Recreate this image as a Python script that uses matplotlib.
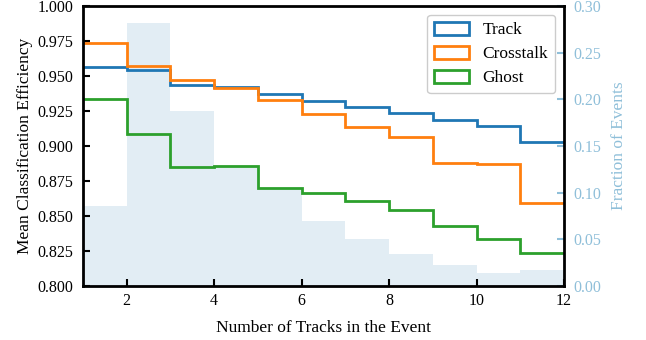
import matplotlib.pyplot as plt
from matplotlib.patches import Patch
import numpy as np

plt.rcParams['font.family'] = ['Liberation Serif', 'DejaVu Serif']
plt.rcParams['font.size'] = 12.5

# bin edges: number of tracks in the event
edges = np.arange(1, 13)

track = [0.9562, 0.9545, 0.9433, 0.9419, 0.9374, 0.9321, 0.9276, 0.9238, 0.9186, 0.9145, 0.9031]
crosstalk = [0.9733, 0.9574, 0.9471, 0.9412, 0.9329, 0.9229, 0.9138, 0.9067, 0.8876, 0.8871, 0.8595]
ghost = [0.9333, 0.9083, 0.8848, 0.8857, 0.8698, 0.8667, 0.8609, 0.8543, 0.8429, 0.8336, 0.8234]

# fraction of events per bin
frac = [0.0857, 0.282, 0.1876, 0.128, 0.105, 0.0697, 0.0504, 0.0343, 0.0225, 0.0143, 0.0171]

names = ['Track', 'Crosstalk', 'Ghost']
colors = ['#1f77b4', '#ff7f0e', '#2ca02c']
side_col = '#8fbfd9'

fig = plt.figure(figsize=(6.46, 3.4), dpi=100)
ax = fig.add_axes([0.1285, 0.159, 0.7445, 0.823])
ax2 = ax.twinx()

# histogram on the secondary axis, drawn behind
ax.set_zorder(2)
ax.patch.set_visible(False)
ax2.set_zorder(1)
ax2.stairs(frac, edges, fill=True, color='#e2edf4', linewidth=0)

for vals, c in zip([track, crosstalk, ghost], colors):
    ax.stairs(vals, edges, baseline=None, color=c, lw=2)

ax.set_xlim(1, 12)
ax.set_ylim(0.8, 1.0)
ax2.set_ylim(0, 0.3)
ax.set_xticks([2, 4, 6, 8, 10, 12])
ax.set_yticks(np.arange(0.8, 1.0001, 0.025))
ax.yaxis.set_major_formatter(plt.FormatStrFormatter('%.3f'))
ax2.set_yticks(np.arange(0, 0.3001, 0.05))
ax2.yaxis.set_major_formatter(plt.FormatStrFormatter('%.2f'))

ax.tick_params(direction='in', length=5, width=1.5, top=False, right=False,
               labelsize=11.5)
ax.tick_params(axis='y', pad=7)
ax.tick_params(axis='x', pad=5)
ax2.tick_params(direction='in', length=5, width=1.5, colors=side_col,
                labelsize=11.5, pad=7)
for s in ax.spines.values():
    s.set_linewidth(2)
for s in ax2.spines.values():
    s.set_visible(False)

ax.set_xlabel('Number of Tracks in the Event', labelpad=8)
ax.set_ylabel('Mean Classification Efficiency', labelpad=3)
ax2.set_ylabel('Fraction of Events', color=side_col, labelpad=7)

handles = [Patch(facecolor='none', edgecolor=c, lw=2) for c in colors]
ax.legend(handles, names, loc='upper right', handlelength=2.0, handleheight=0.8,
          borderpad=0.4, labelspacing=0.42, handletextpad=0.8,
          framealpha=1, edgecolor='#cccccc')

fig.savefig('out.png', dpi=100)
